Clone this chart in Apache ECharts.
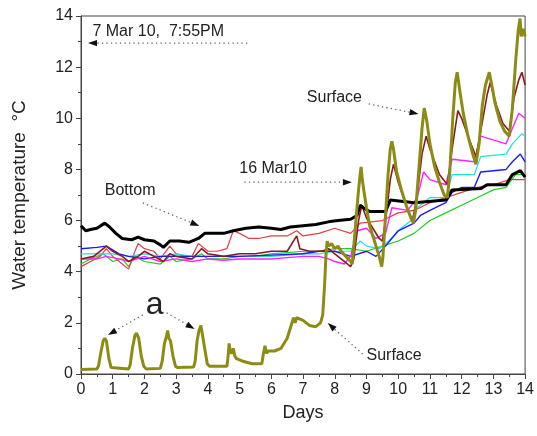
<!DOCTYPE html>
<html>
<head>
<meta charset="utf-8">
<script src="https://cdn.jsdelivr.net/npm/echarts@6/dist/echarts.min.js"></script>
<style>html,body{margin:0;padding:0;background:#fff;}#c{width:537px;height:436px;}</style>
</head>
<body>
<div id="c"></div>
<script>
// ---- Data (day, water temperature °C) ----
var surface = [[0,0.18],[0.5,0.2],[0.55,0.3],[0.62,0.8],[0.7,1.3],[0.75,1.4],[0.8,1.3],[0.88,0.6],[0.95,0.25],[1.0,0.2],[1.5,0.2],[1.55,0.35],[1.62,1.0],[1.7,1.5],[1.75,1.6],[1.82,1.4],[1.9,0.7],[1.98,0.3],[2.05,0.2],[2.5,0.22],[2.56,0.5],[2.63,1.2],[2.7,1.5],[2.73,1.7],[2.77,1.4],[2.82,1.3],[2.9,0.7],[2.98,0.3],[3.05,0.25],[3.55,0.27],[3.6,0.5],[3.66,1.3],[3.72,1.7],[3.78,1.9],[3.82,1.85],[3.9,1.0],[3.98,0.4],[4.05,0.3],[4.6,0.3],[4.63,0.6],[4.67,1.2],[4.7,0.9],[4.75,0.8],[4.8,1.0],[4.85,0.7],[4.9,0.6],[5.1,0.5],[5.4,0.4],[5.7,0.4],[5.75,0.8],[5.8,1.1],[5.85,0.8],[5.9,0.9],[6.1,0.9],[6.3,1.0],[6.5,1.4],[6.6,1.8],[6.7,2.2],[6.75,2.0],[6.8,2.2],[7.0,2.1],[7.2,1.9],[7.4,1.85],[7.55,2.0],[7.62,2.3],[7.68,3.5],[7.72,4.6],[7.76,5.2],[7.8,5.0],[7.9,5.1],[8.0,4.9],[8.1,5.0],[8.2,4.8],[8.35,4.6],[8.5,4.4],[8.55,4.3],[8.6,5.0],[8.68,6.2],[8.75,7.2],[8.8,7.8],[8.83,8.1],[8.86,7.7],[8.9,7.3],[9.0,6.5],[9.1,5.8],[9.25,5.2],[9.4,4.6],[9.48,4.2],[9.52,4.6],[9.6,6.2],[9.68,7.8],[9.75,8.8],[9.8,9.1],[9.85,8.8],[9.95,7.9],[10.1,7.2],[10.25,6.6],[10.4,6.1],[10.48,5.9],[10.55,6.4],[10.65,8.0],[10.75,9.6],[10.82,10.4],[10.9,9.9],[11.0,9.0],[11.15,8.1],[11.3,7.5],[11.45,7.0],[11.55,6.9],[11.62,7.8],[11.72,10.0],[11.8,11.4],[11.86,11.8],[11.95,11.0],[12.05,10.2],[12.2,9.3],[12.35,8.6],[12.45,8.2],[12.55,9.0],[12.65,10.5],[12.75,11.3],[12.87,11.8],[12.95,11.3],[13.05,10.6],[13.2,9.9],[13.35,9.5],[13.5,9.3],[13.6,10.4],[13.7,12.2],[13.78,13.4],[13.84,13.9],[13.88,13.2],[13.95,13.5],[14.0,13.2]];
var bottom = [[0,5.8],[0.15,5.6],[0.3,5.65],[0.5,5.7],[0.75,5.9],[0.9,5.75],[1.1,5.5],[1.3,5.3],[1.6,5.25],[1.8,5.35],[2.0,5.25],[2.3,5.2],[2.5,5.05],[2.6,4.95],[2.8,5.2],[3.1,5.2],[3.4,5.15],[3.7,5.3],[3.9,5.5],[4.2,5.5],[4.5,5.5],[4.8,5.6],[5.2,5.7],[5.6,5.75],[6.0,5.7],[6.3,5.65],[6.6,5.75],[7.0,5.8],[7.4,5.85],[7.8,5.95],[8.1,6.0],[8.5,6.05],[8.7,6.2],[8.8,6.6],[8.9,6.5],[9.1,6.35],[9.6,6.35],[9.75,6.8],[10.5,6.7],[11.5,6.8],[11.7,7.2],[12.6,7.25],[12.8,7.4],[13.4,7.4],[13.6,7.8],[13.85,7.95],[14.0,7.7]];
var redLine = [[0,4.2],[0.3,4.4],[0.6,4.6],[0.8,4.9],[1.0,4.6],[1.3,4.3],[1.5,4.1],[1.7,4.8],[1.8,5.1],[2.0,4.9],[2.3,4.8],[2.5,4.5],[2.8,5.0],[3.0,4.7],[3.3,4.6],[3.5,4.6],[3.7,5.1],[4.0,4.8],[4.3,4.8],[4.6,4.9],[4.8,5.6],[5.0,5.5],[5.3,5.3],[5.6,5.3],[6.0,5.4],[6.5,5.4],[6.8,5.6],[7.0,5.4],[7.5,5.5],[8.0,5.7],[8.5,5.5],[8.8,5.9],[9.5,6.0],[10.0,6.3],[10.5,6.4],[11.0,6.7],[11.5,6.9],[12.0,7.1],[12.5,7.3],[13.0,7.4],[13.5,7.6],[14.0,7.6]];
var darkRed = [[0,4.5],[0.4,4.6],[0.8,5.0],[1.0,4.8],[1.3,4.6],[1.5,4.4],[1.8,4.6],[2.0,4.8],[2.3,4.6],[2.6,4.4],[2.8,4.7],[3.0,4.6],[3.5,4.5],[3.8,4.9],[4.0,4.7],[4.5,4.6],[5.0,4.7],[5.5,4.7],[6.0,4.8],[6.5,4.8],[6.8,5.4],[6.9,4.9],[7.2,4.8],[7.6,4.8],[7.8,4.9],[8.0,4.7],[8.3,4.4],[8.5,4.2],[8.6,4.5],[8.75,6.0],[8.85,6.6],[9.0,6.1],[9.2,5.7],[9.4,5.3],[9.5,5.2],[9.6,6.0],[9.75,7.6],[9.85,8.2],[10.0,7.5],[10.3,6.4],[10.45,6.0],[10.6,7.0],[10.75,8.6],[10.88,9.3],[11.0,8.8],[11.3,7.8],[11.55,7.4],[11.7,8.8],[11.88,10.3],[12.0,10.0],[12.2,9.3],[12.45,8.5],[12.6,9.5],[12.8,10.9],[12.9,11.4],[13.1,10.5],[13.3,9.8],[13.5,9.5],[13.65,10.8],[13.8,11.5],[13.9,11.8],[14.0,11.3]];
var magenta = [[0,4.5],[0.5,4.5],[0.8,4.6],[1.2,4.5],[1.5,4.4],[2.0,4.6],[2.5,4.4],[3.0,4.5],[3.5,4.4],[4.0,4.5],[4.5,4.45],[5.0,4.5],[5.5,4.5],[6.0,4.5],[6.5,4.55],[7.0,4.6],[7.5,4.6],[7.8,4.5],[8.0,4.4],[8.3,4.3],[8.5,4.6],[8.7,5.6],[9.0,5.7],[9.3,5.3],[9.6,5.5],[9.8,6.5],[10.3,6.4],[10.6,6.9],[10.8,7.9],[11.0,7.6],[11.5,7.4],[11.7,8.4],[12.4,8.3],[12.6,9.3],[13.4,9.0],[13.6,9.6],[13.8,10.2],[14.0,10.0]];
var cyan = [[0,4.7],[0.5,4.7],[1.0,4.7],[1.5,4.6],[2.0,4.7],[2.5,4.6],[3.0,4.7],[3.5,4.6],[4.0,4.6],[4.5,4.6],[5.0,4.6],[5.5,4.6],[6.0,4.6],[6.5,4.65],[7.0,4.7],[7.5,4.7],[8.0,4.8],[8.5,4.8],[8.8,5.2],[9.0,5.0],[9.4,4.9],[9.7,5.2],[10.0,5.6],[10.4,6.0],[10.6,6.5],[11.0,6.9],[11.5,6.9],[11.7,7.8],[12.4,7.8],[12.6,8.5],[13.4,8.6],[13.6,9.0],[13.9,9.4],[14.0,9.3]];
var blue = [[0,4.9],[0.5,4.95],[0.8,5.0],[1.2,4.7],[1.5,4.6],[2.0,4.5],[2.5,4.6],[3.0,4.6],[3.5,4.6],[4.0,4.6],[5.0,4.6],[6.0,4.65],[7.0,4.7],[7.5,4.8],[8.0,4.8],[8.5,4.6],[9.0,4.8],[9.3,4.6],[9.6,5.0],[10.0,5.6],[10.5,5.9],[10.7,6.2],[11.0,6.4],[11.5,6.7],[11.7,7.1],[12.0,7.3],[12.4,7.3],[12.6,7.9],[13.4,8.0],[13.6,8.3],[13.85,8.6],[14.0,8.3]];
var green = [[0,4.3],[0.3,4.5],[0.7,4.7],[1.0,4.4],[1.3,4.5],[1.5,4.2],[1.7,4.6],[2.0,4.4],[2.5,4.3],[2.8,4.6],[3.0,4.4],[3.5,4.5],[3.8,4.7],[4.0,4.5],[4.5,4.5],[5.0,4.6],[5.5,4.6],[6.0,4.7],[6.5,4.75],[7.0,4.8],[7.5,4.8],[8.0,4.9],[8.5,4.9],[9.0,4.8],[9.5,5.0],[10.0,5.2],[10.5,5.5],[11.0,6.0],[11.5,6.3],[12.0,6.6],[12.5,6.9],[13.0,7.2],[13.4,7.3],[13.7,7.8],[14.0,7.8]];

// ---- Annotations (data coordinates) ----
var arrows = [
  [[5.24,12.94],[0.22,12.94]],
  [[5.15,7.5],[8.54,7.5]],
  [[1.95,6.69],[3.73,5.79]],
  [[9.07,10.56],[10.64,10.17]],
  [[1.95,2.31],[0.85,1.53]],
  [[2.7,2.39],[3.58,1.76]],
  [[8.88,0.78],[7.78,1.99]]
];
var notes = [
  {text:'7 Mar 10,  7:55PM', at:[0.36,13.4], size:16, align:'left'},
  {text:'16 Mar10', at:[4.99,8.05], size:16, align:'left'},
  {text:'Bottom', at:[0.75,7.16], size:16, align:'left'},
  {text:'Surface', at:[7.12,10.8], size:16, align:'left'},
  {text:'a', at:[2.32,2.7], size:32, align:'center'},
  {text:'Surface', at:[9.0,0.72], size:16, align:'left'}
];

var FONT = '"Liberation Sans", Arial, sans-serif';
var chart = echarts.init(document.getElementById('c'));

function thin(name, data, color, w) {
  return {name:name, type:'line', data:data, symbol:'none', showSymbol:false,
    lineStyle:{color:color, width:w||1.2}, itemStyle:{color:color}, z:2, silent:true};
}

var option = {
  animation:false,
  backgroundColor:'#fff',
  grid:{left:81, right:10, top:16, bottom:62, show:true, borderColor:'#444', borderWidth:1, backgroundColor:'transparent'},
  xAxis:{type:'value', min:0, max:14, interval:1,
    name:'Days', nameLocation:'middle', nameGap:30,
    nameTextStyle:{fontFamily:FONT, fontSize:18, color:'#222'},
    axisLine:{show:true, lineStyle:{color:'#444', width:1}},
    axisTick:{show:true, length:5, lineStyle:{color:'#444'}},
    minorTick:{show:true, splitNumber:2, length:3, lineStyle:{color:'#444'}},
    splitLine:{show:false},
    axisLabel:{fontFamily:FONT, fontSize:16, color:'#222', margin:8}},
  yAxis:{type:'value', min:0, max:14, interval:2,
    name:'Water temperature  °C', nameLocation:'middle', nameGap:52,
    nameTextStyle:{fontFamily:FONT, fontSize:19, color:'#222'},
    axisLine:{show:true, lineStyle:{color:'#444', width:1}},
    axisTick:{show:true, length:5, lineStyle:{color:'#444'}},
    minorTick:{show:true, splitNumber:2, length:3, lineStyle:{color:'#444'}},
    splitLine:{show:false},
    axisLabel:{fontFamily:FONT, fontSize:16, color:'#222', margin:8}},
  series:[
    thin('green', green, '#22cc22'),
    thin('red', redLine, '#e04040'),
    thin('cyan', cyan, '#22e0e0'),
    thin('blue', blue, '#1a1aff', 1.4),
    thin('magenta', magenta, '#ff22ff', 1.4),
    thin('darkred', darkRed, '#8b1a1a', 1.6),
    {name:'Bottom', type:'line', data:bottom, symbol:'none', lineStyle:{color:'#000', width:3}, z:3, silent:true},
    {name:'Surface', type:'line', data:surface, symbol:'none', lineStyle:{color:'#8c8c14', width:3}, z:4, silent:true}
  ]
};
chart.setOption(option);

var g = [];
notes.forEach(function(n){
  var p = chart.convertToPixel({gridIndex:0}, n.at);
  g.push({type:'text', x:p[0], y:p[1], z:10, silent:true,
    style:{text:n.text, fontFamily:FONT, fontSize:n.size, fill:'#222', align:n.align, verticalAlign:'middle'}});
});
arrows.forEach(function(a){
  var p0 = chart.convertToPixel({gridIndex:0}, a[0]);
  var p1 = chart.convertToPixel({gridIndex:0}, a[1]);
  var dx = p1[0]-p0[0], dy = p1[1]-p0[1], L = Math.sqrt(dx*dx+dy*dy);
  var ux = dx/L, uy = dy/L, hl = 9, hw = 3.2;
  var bx = p1[0]-ux*hl, by = p1[1]-uy*hl;
  g.push({type:'line', z:9, silent:true,
    shape:{x1:p0[0], y1:p0[1], x2:bx, y2:by},
    style:{stroke:'#666', lineWidth:1.3, lineDash:[1.3,3.2]}});
  g.push({type:'polygon', z:9, silent:true,
    shape:{points:[[p1[0],p1[1]],[bx-uy*hw,by+ux*hw],[bx+uy*hw,by-ux*hw]]},
    style:{fill:'#111'}});
});
chart.setOption({graphic:g});
</script>
</body>
</html>
